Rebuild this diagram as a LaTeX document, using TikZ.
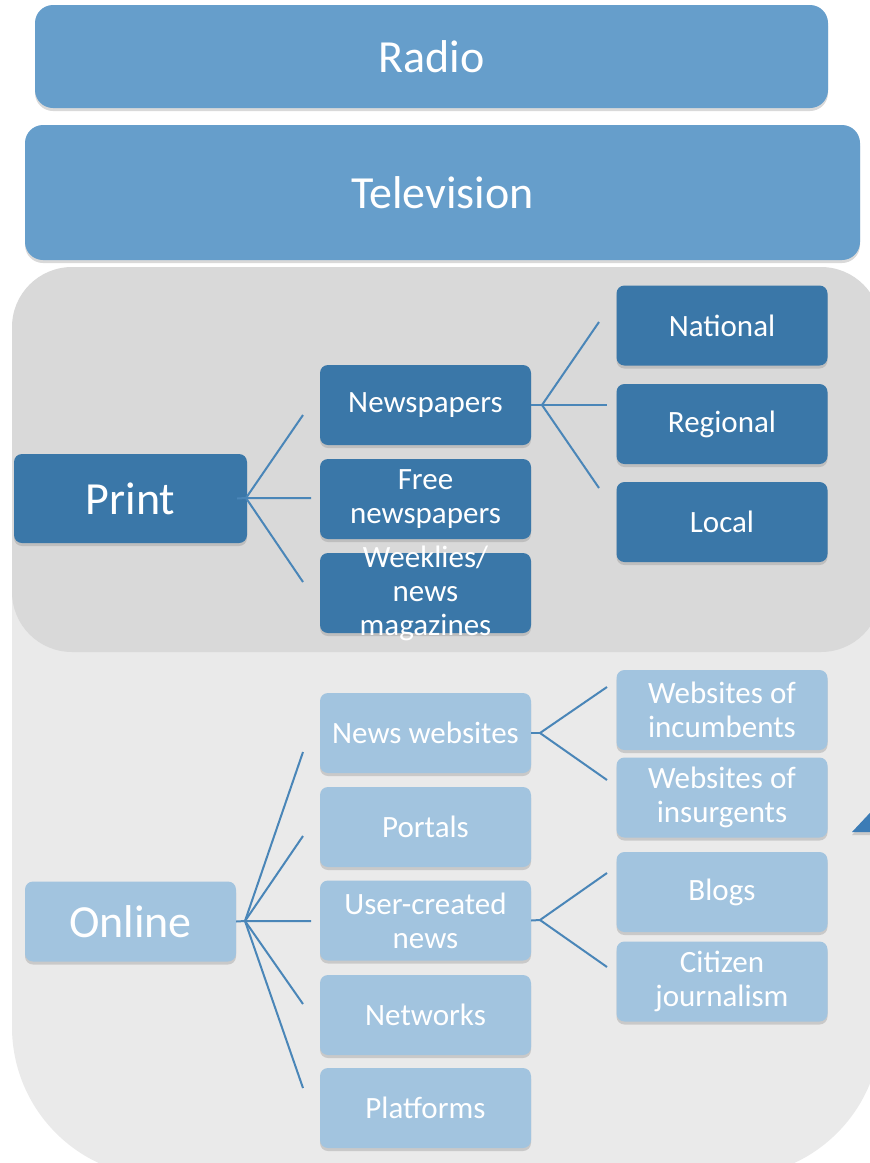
\documentclass[tikz,border=0pt]{standalone}
\usepackage{fontspec}
\setmainfont{Carlito}
\usetikzlibrary{shadows}

\definecolor{topblue}{HTML}{669ECB}
\definecolor{printblue}{HTML}{3A77A8}
\definecolor{onlineblue}{HTML}{A2C4DF}
\definecolor{fanblue}{HTML}{4A86B8}
\definecolor{printbg}{HTML}{D9D9D9}
\definecolor{onlinebg}{HTML}{EAEAEA}
\definecolor{triblue}{HTML}{3C7CB6}

\tikzset{
  shade/.style={drop shadow={shadow xshift=0pt,shadow yshift=-3pt,opacity=0.3}},
  bigtext/.style={font=\fontsize{46}{50}\selectfont},
  smalltext/.style={font=\fontsize{31}{34}\selectfont},
  topbox/.style={fill=topblue,rounded corners=18pt,text=white,inner sep=0pt,shade,bigtext},
  itembox/.style={rounded corners=8pt,text=white,inner sep=0pt,align=center,
                  minimum width=211pt,minimum height=80pt,shade,smalltext},
  printbox/.style={itembox,fill=printblue},
  onlinebox/.style={itembox,fill=onlineblue},
  fan/.style={draw=fanblue,line width=2pt}
}

\begin{document}
\begin{tikzpicture}[x=1pt,y=-1pt]
  \useasboundingbox (0,0) rectangle (870,1163);
  \clip (0,0) rectangle (870,1163);

  % backgrounds of the two groups
  \fill[onlinebg,rounded corners=150pt] (12,400) rectangle (881,1177);
  \fill[printbg,rounded corners=60pt] (12,267) rectangle (881,652);

  % broadcast
  \node[topbox,minimum width=793pt,minimum height=103pt] (radio) at (431.5,56.5) {Radio};
  \node[topbox,minimum width=835pt,minimum height=135pt] (tv) at (442.5,192.5) {Television};

  % print
  \node[printbox,bigtext,minimum width=233pt,minimum height=89pt] (print) at (130.5,498.5) {Print};
  \node[printbox] (newsp) at (425.5,405) {Newspapers};
  \node[printbox] (free) at (425.5,499) {Free\\newspapers};
  % text runs out of this box, so it goes in as a label
  \node[printbox,label={[smalltext,text=white,align=center]center:Weeklies/\\news\\magazines}]
    (weekly) at (425.5,593) {};
  \node[printbox] (national) at (722,325.5) {National};
  \node[printbox] (regional) at (722,424) {Regional};
  \node[printbox] (local) at (722,522) {Local};

  % online
  \node[onlinebox,bigtext] (online) at (130.5,921.5) {Online};
  \node[onlinebox] (newsweb) at (425.5,733) {News websites};
  \node[onlinebox] (portals) at (425.5,827) {Portals};
  \node[onlinebox] (usernews) at (425.5,920.5) {User-created\\news};
  \node[onlinebox] (networks) at (425.5,1015) {Networks};
  \node[onlinebox] (platforms) at (425.5,1108) {Platforms};
  \node[onlinebox] (incumb) at (722,710) {Websites of\\incumbents};
  \node[onlinebox] (insurg) at (722,797.5) {Websites of\\insurgents};
  \node[onlinebox] (blogs) at (722,892) {Blogs};
  \node[onlinebox] (citizen) at (722,981.5) {Citizen\\journalism};

  % fan joints and loose ends
  \coordinate (pj) at (246,498);
  \coordinate (pa) at (303,415);
  \coordinate (pb) at (311,498);
  \coordinate (pc) at (303,582);
  \coordinate (nj) at (542,405);
  \coordinate (na) at (599,322);
  \coordinate (nb) at (607,405);
  \coordinate (nc) at (599,488);
  \coordinate (oj) at (245,921);
  \coordinate (oa) at (303,752);
  \coordinate (ob) at (303,836);
  \coordinate (oc) at (311,921);
  \coordinate (od) at (303,1004);
  \coordinate (oe) at (303,1088);
  \coordinate (wj) at (540,733);
  \coordinate (wa) at (607,687);
  \coordinate (wb) at (607,780);
  \coordinate (uj) at (540,920);
  \coordinate (ua) at (607,873);
  \coordinate (ub) at (607,967);

  \draw[fan] ([xshift=-10pt]print.east) -- (pj) -- (pb);
  \draw[fan] (pa) -- (pj) -- (pc);
  \draw[fan] (newsp.east) -- (nj) -- (nb);
  \draw[fan] (na) -- (nj) -- (nc);
  \draw[fan] (online.east) -- (oj) -- (oc);
  \draw[fan] (oa) -- (oj) -- (oe);
  \draw[fan] (ob) -- (oj) -- (od);
  \draw[fan] (newsweb.east) -- (wj);
  \draw[fan] (wa) -- (wj) -- (wb);
  \draw[fan] (usernews.east) -- (uj);
  \draw[fan] (ua) -- (uj) -- (ub);

  % tip coming in from the right
  \fill[triblue,shade] (852,832) -- (882,800) -- (882,832) -- cycle;
\end{tikzpicture}
\end{document}
